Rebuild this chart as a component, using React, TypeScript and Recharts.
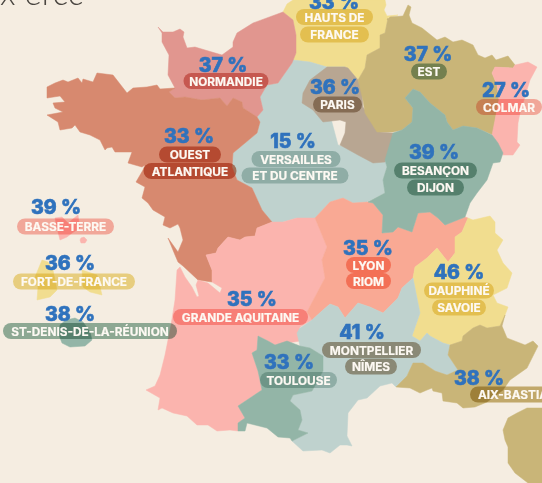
import React from 'react'
import { ScatterChart, Scatter, XAxis, YAxis, Polygon } from 'recharts'

type Pt = [number, number]

// map outlines, in picture units
const hautsDeFrance: Pt[] = [[287,4],[293,0],[385,0],[386,5],[384,10],[387,16],[398,15],[388,18],[385,33],[380,35],[380,48],[367,55],[365,68],[358,80],[348,68],[345,67],[327,67],[310,62],[293,60],[296,53],[296,35],[293,20],[283,12]]
const normandie: Pt[] = [[158,27],[163,32],[173,32],[180,29],[184,32],[183,37],[187,48],[195,47],[205,50],[222,55],[233,47],[233,42],[237,33],[253,23],[283,12],[293,20],[296,35],[296,53],[292,63],[285,73],[278,83],[267,85],[260,97],[263,110],[257,117],[243,108],[242,102],[233,98],[227,106],[220,98],[202,100],[185,97],[175,98],[169,92],[175,88],[168,75],[169,55],[162,42],[162,33]]
const versailles: Pt[] = [[293,60],[310,62],[327,67],[345,67],[345,100],[330,115],[338,145],[375,155],[385,160],[387,167],[383,180],[385,193],[367,202],[353,203],[343,198],[330,202],[315,218],[297,218],[283,222],[272,222],[262,210],[252,188],[237,180],[232,167],[233,153],[245,143],[257,133],[260,122],[257,117],[263,110],[260,97],[267,85],[278,83],[285,73],[292,63]]
const parisBassin: Pt[] = [[302,103],[303,93],[310,80],[327,67],[345,67],[348,68],[358,80],[362,90],[363,107],[373,122],[380,132],[393,133],[392,140],[385,162],[373,163],[358,155],[340,145],[345,133],[346,122],[340,120],[323,122],[313,110]]
const est: Pt[] = [[387,20],[390,17],[403,16],[408,5],[411,7],[409,15],[412,23],[422,28],[437,40],[445,37],[453,42],[462,40],[473,45],[478,55],[485,58],[492,55],[496,60],[508,56],[515,65],[513,68],[495,67],[492,73],[497,85],[499,100],[496,115],[493,135],[477,128],[463,126],[453,130],[447,122],[445,115],[430,103],[420,92],[413,89],[405,98],[413,108],[412,122],[402,130],[393,132],[377,132],[365,113],[363,100],[358,80],[365,68],[367,55],[380,48],[380,35],[385,33],[388,18]]
const colmar: Pt[] = [[495,67],[513,68],[515,65],[528,62],[537,67],[530,80],[520,113],[518,123],[517,142],[520,145],[513,155],[503,155],[497,143],[492,135],[496,115],[499,100],[497,85],[492,73]]
const besancon: Pt[] = [[413,89],[420,92],[430,103],[445,115],[447,122],[453,130],[463,126],[477,128],[492,135],[498,143],[503,153],[500,162],[493,163],[487,180],[477,193],[470,203],[465,217],[445,225],[438,218],[430,212],[418,213],[412,232],[398,227],[393,232],[382,233],[383,215],[373,203],[368,202],[385,193],[383,180],[387,167],[385,160],[393,133],[402,130],[412,122],[413,108],[405,98]]
const ouest: Pt[] = [[47,87],[55,83],[63,80],[68,82],[78,78],[82,83],[83,79],[93,82],[97,73],[113,75],[127,93],[133,88],[147,87],[157,85],[160,89],[175,88],[169,92],[175,98],[185,97],[202,100],[220,98],[227,106],[233,98],[242,102],[243,108],[257,117],[260,122],[257,133],[245,143],[233,153],[232,167],[237,180],[252,188],[262,210],[272,222],[257,228],[255,236],[245,237],[240,240],[228,237],[218,248],[216,253],[206,255],[212,270],[212,282],[198,280],[183,266],[178,262],[175,255],[168,238],[173,245],[178,252],[183,240],[180,228],[178,224],[170,228],[163,225],[165,217],[153,210],[148,203],[142,198],[145,187],[136,182],[143,170],[145,165],[142,167],[128,163],[132,152],[115,152],[112,147],[107,148],[105,150],[100,140],[90,135],[80,132],[75,125],[72,128],[60,130],[58,122],[47,115],[63,112],[55,108],[53,103],[65,102],[60,96],[47,98]]
const aquitaine: Pt[] = [[272,222],[283,222],[297,218],[315,218],[327,247],[322,260],[325,278],[307,312],[312,320],[300,327],[298,333],[300,341],[275,345],[268,341],[258,336],[257,350],[252,353],[258,371],[262,390],[238,406],[245,418],[238,423],[238,431],[230,430],[217,431],[208,425],[197,425],[187,416],[173,413],[162,408],[158,410],[160,398],[146,390],[155,386],[160,375],[165,355],[171,325],[175,300],[177,270],[180,267],[185,277],[192,287],[197,297],[199,296],[196,285],[198,280],[208,283],[220,293],[222,288],[212,282],[212,270],[206,255],[216,253],[218,248],[228,237],[240,240],[245,237],[255,236],[257,228]]
const lyon: Pt[] = [[330,202],[343,198],[353,203],[368,202],[373,203],[383,215],[382,233],[393,232],[398,227],[412,232],[418,213],[430,212],[438,218],[445,225],[465,217],[468,218],[462,232],[455,237],[455,253],[448,262],[437,248],[427,258],[415,267],[413,278],[402,288],[398,298],[383,313],[370,307],[358,303],[345,318],[338,307],[330,304],[323,310],[312,320],[307,312],[325,278],[322,260],[327,247],[315,218]]
const dauphine: Pt[] = [[468,218],[473,220],[490,216],[495,222],[495,233],[503,240],[497,250],[503,263],[512,273],[507,288],[493,295],[497,303],[508,307],[505,315],[500,326],[487,328],[480,325],[473,328],[463,336],[462,341],[450,345],[443,343],[430,336],[427,333],[420,341],[412,336],[420,313],[413,278],[415,267],[427,258],[437,248],[448,262],[455,253],[455,237],[462,232]]
const montpellier: Pt[] = [[338,307],[345,318],[358,303],[370,307],[383,313],[398,298],[402,288],[413,278],[420,313],[412,336],[420,341],[427,333],[430,336],[443,343],[450,345],[448,355],[458,370],[447,375],[435,371],[423,363],[413,363],[407,376],[396,387],[392,383],[380,386],[367,398],[358,400],[348,413],[347,436],[352,446],[347,445],[340,445],[330,453],[322,450],[303,451],[292,441],[308,433],[298,430],[302,420],[300,410],[290,401],[293,395],[312,391],[323,371],[323,356],[310,348],[300,346],[297,333],[300,328],[312,320],[323,310],[330,304]]
const toulouse: Pt[] = [[258,336],[268,341],[275,345],[287,341],[300,346],[310,348],[323,356],[323,371],[312,391],[293,395],[290,401],[300,410],[302,420],[298,430],[308,433],[292,441],[290,438],[278,437],[267,428],[247,423],[245,431],[238,431],[238,423],[245,418],[238,406],[262,390],[258,371],[252,353],[257,350]]
const aix: Pt[] = [[505,315],[502,326],[507,338],[525,345],[533,341],[538,346],[527,368],[510,380],[503,390],[487,402],[475,407],[463,408],[457,403],[443,401],[442,393],[433,391],[432,388],[427,390],[420,393],[410,388],[396,387],[407,376],[413,363],[423,363],[435,371],[447,375],[458,370],[448,355],[450,345],[462,341],[463,336],[473,328],[480,325],[487,328],[500,326]]
const corse: Pt[] = [[542,408],[527,408],[517,413],[508,418],[503,430],[505,440],[508,447],[508,463],[515,473],[528,483],[542,483]]
const basseTerre: Pt[] = [[55,218],[62,217],[68,223],[78,215],[80,228],[72,233],[67,237],[60,240],[57,228]]
const basseTerreIle: Pt[] = [[81,238],[84,237],[87,240],[85,243],[81,243],[80,240]]
const fortOuest: Pt[] = [[42,260],[48,262],[53,270],[57,290],[50,297],[37,300],[38,287],[35,277]]
const fortEst: Pt[] = [[82,270],[97,275],[102,295],[90,292],[83,287]]
const reunion: Pt[] = [[60,325],[66,320],[75,318],[83,322],[90,332],[92,340],[85,346],[70,347],[62,343],[59,335]]

const COLORS = {
  yellow: '#f1dd8f',
  rose: '#e1968f',
  sage: '#bfd2ce',
  tan: '#b8a692',
  olive: '#c9b578',
  pink: '#fbb4ae',
  green: '#93b5a7',
  terra: '#d7896f',
  salmon: '#f9a994',
}

const regions: { pts: Pt[]; color: string }[] = [
  { pts: hautsDeFrance, color: COLORS.yellow },
  { pts: versailles, color: COLORS.sage },
  { pts: parisBassin, color: COLORS.tan },
  { pts: normandie, color: COLORS.rose },
  { pts: ouest, color: COLORS.terra },
  { pts: aquitaine, color: COLORS.pink },
  { pts: lyon, color: COLORS.salmon },
  { pts: dauphine, color: COLORS.yellow },
  { pts: montpellier, color: COLORS.sage },
  { pts: toulouse, color: COLORS.green },
  { pts: aix, color: COLORS.olive },
  { pts: corse, color: COLORS.olive },
  { pts: est, color: COLORS.olive },
  { pts: colmar, color: COLORS.pink },
  { pts: besancon, color: COLORS.green },
  { pts: basseTerre, color: COLORS.pink },
  { pts: basseTerreIle, color: COLORS.pink },
  { pts: fortOuest, color: COLORS.yellow },
  { pts: fortEst, color: COLORS.yellow },
  { pts: reunion, color: COLORS.green },
]

// percentage per academy, placed on the map
const scores = [
  { x: 334, y: 2, text: '33 %' },
  { x: 223, y: 65, text: '37 %' },
  { x: 189, y: 136, text: '33 %' },
  { x: 293, y: 141, text: '15 %' },
  { x: 335, y: 87, text: '36 %' },
  { x: 428, y: 54, text: '37 %' },
  { x: 506, y: 90, text: '27 %' },
  { x: 434, y: 152, text: '39 %' },
  { x: 368, y: 248, text: '35 %' },
  { x: 459, y: 272, text: '46 %' },
  { x: 252, y: 299, text: '35 %' },
  { x: 362, y: 332, text: '41 %' },
  { x: 289, y: 362, text: '33 %' },
  { x: 479, y: 378, text: '38 %' },
  { x: 56, y: 207, text: '39 %' },
  { x: 70, y: 263, text: '36 %' },
  { x: 70, y: 314, text: '38 %' },
]

const names = [
  { x: 226, y: 81, text: 'NORMANDIE', color: COLORS.rose },
  { x: 190, y: 154.5, text: 'OUEST', color: COLORS.terra },
  { x: 190, y: 171, text: 'ATLANTIQUE', color: COLORS.terra },
  { x: 296, y: 159, text: 'VERSAILLES', color: COLORS.sage },
  { x: 295, y: 175.5, text: 'ET DU CENTRE', color: COLORS.sage },
  { x: 334.5, y: 17, text: 'HAUTS DE', color: COLORS.yellow },
  { x: 334.5, y: 34.5, text: 'FRANCE', color: COLORS.yellow },
  { x: 337.5, y: 104.5, text: 'PARIS', color: COLORS.tan },
  { x: 429, y: 71.5, text: 'EST', color: COLORS.green },
  { x: 509, y: 107, text: 'COLMAR', color: COLORS.pink },
  { x: 435.5, y: 170.5, text: 'BESANÇON', color: COLORS.green },
  { x: 435.5, y: 187.5, text: 'DIJON', color: COLORS.green },
  { x: 368.5, y: 265, text: 'LYON', color: COLORS.salmon },
  { x: 368.5, y: 281, text: 'RIOM', color: COLORS.salmon },
  { x: 459, y: 290.5, text: 'DAUPHINÉ', color: COLORS.yellow },
  { x: 459, y: 307.5, text: 'SAVOIE', color: COLORS.yellow },
  { x: 240.5, y: 317, text: 'GRANDE AQUITAINE', color: COLORS.pink },
  { x: 371.5, y: 350, text: 'MONTPELLIER', color: COLORS.tan },
  { x: 371, y: 366.5, text: 'NÎMES', color: COLORS.tan },
  { x: 298.5, y: 380, text: 'TOULOUSE', color: COLORS.sage },
  { x: 513, y: 394.5, text: 'AIX-BASTIA', color: COLORS.olive },
  { x: 65.5, y: 226.5, text: 'BASSE-TERRE', color: COLORS.pink },
  { x: 74, y: 281.5, text: 'FORT-DE-FRANCE', color: COLORS.yellow },
  { x: 90, y: 331, text: 'ST-DENIS-DE-LA-RÉUNION', color: COLORS.green },
]

const pillWidths: Record<string, number> = {
  NORMANDIE: 85, OUEST: 62, ATLANTIQUE: 93, VERSAILLES: 89, 'ET DU CENTRE': 107,
  'HAUTS DE': 77, FRANCE: 69, PARIS: 49, EST: 36, COLMAR: 66, 'BESANÇON': 83, DIJON: 57,
  LYON: 45, RIOM: 45, 'DAUPHINÉ': 70, SAVOIE: 54, 'GRANDE AQUITAINE': 135, MONTPELLIER: 99,
  'NÎMES': 52, TOULOUSE: 77, 'AIX-BASTIA': 86, 'BASSE-TERRE': 97, 'FORT-DE-FRANCE': 122,
  'ST-DENIS-DE-LA-RÉUNION': 174,
}

const toPoints = (pts: Pt[]) => pts.map(([x, y]) => ({ x, y }))
const noDot = () => <g />
const FONT = 'Inter, sans-serif'

function ScoreMark({ cx, cy, payload }: any) {
  return (
    <text x={cx} y={cy} dy={7} textAnchor="middle" fontFamily={FONT} fontWeight={800} fontSize={19.5} fill="#2f72bd" stroke="#2f72bd" strokeWidth={0.6}>
      {payload.text}
    </text>
  )
}

function NameMark({ cx, cy, payload }: any) {
  const w = pillWidths[payload.text]
  return (
    <g>
      <rect x={cx - w / 2} y={cy - 8} width={w} height={16} rx={8} fill={payload.color} style={{ mixBlendMode: 'multiply' }} />
      <text x={cx} y={cy} dy={4.6} textAnchor="middle" fontFamily={FONT} fontWeight={700} fontSize={11.8} fill="#fdf9f3" stroke="#fdf9f3" strokeWidth={0.2}>
        {payload.text}
      </text>
    </g>
  )
}

export default function App() {
  return (
    <div style={{ position: 'absolute', left: 0, top: 0, width: 542, height: 483, background: '#f5ede1', overflow: 'hidden' }}>
      <ScatterChart width={542} height={483} margin={{ top: 0, right: 0, bottom: 0, left: 0 }}>
        <XAxis type="number" dataKey="x" domain={[0, 542]} hide />
        <YAxis type="number" dataKey="y" domain={[0, 483]} reversed hide />
        {regions.map((r, i) => (
          <Scatter
            key={i}
            data={toPoints(r.pts)}
            isAnimationActive={false}
            shape={noDot}
            line={(p: any) => <Polygon points={p.points} fill={r.color} stroke={r.color} strokeWidth={0.5} />}
          />
        ))}
        <Scatter data={names} isAnimationActive={false} shape={NameMark} />
        <Scatter data={scores} isAnimationActive={false} shape={ScoreMark} />
      </ScatterChart>
      <div style={{ position: 'absolute', left: 0, top: -28, fontFamily: 'Lato, sans-serif', fontWeight: 300, fontSize: 33, color: '#4a4641', whiteSpace: 'nowrap' }}>
        x ercc
      </div>
    </div>
  )
}
